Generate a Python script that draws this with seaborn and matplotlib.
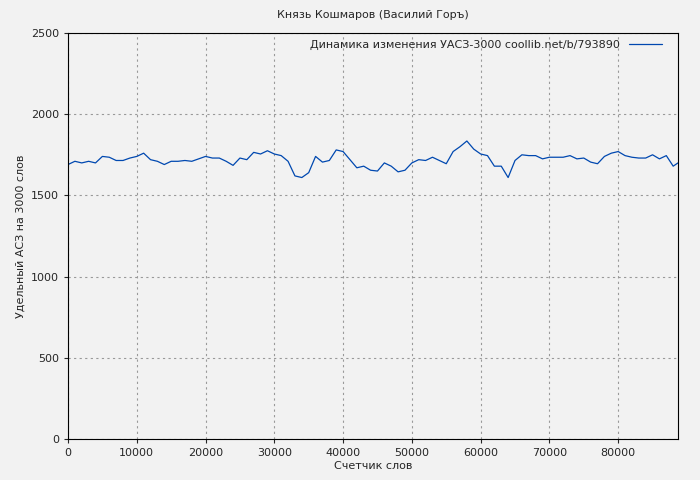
import matplotlib
matplotlib.use("Agg")
import matplotlib.pyplot as plt
import seaborn as sns
import pandas as pd

words = [i*1000 for i in range(89)]
values = [1690,1710,1700,1710,1700,1740,1735,1715,1715,1730,1740,1760,1720,1710,1690,1710,1710,1715,1710,1725,
          1740,1730,1730,1710,1685,1730,1720,1765,1755,1775,1755,1745,1710,1620,1610,1640,1740,1705,1715,1780,
          1770,1720,1670,1680,1655,1650,1700,1680,1645,1655,1700,1720,1715,1735,1715,1695,1770,1800,1835,1785,
          1755,1745,1680,1680,1610,1715,1750,1745,1745,1725,1735,1735,1735,1745,1725,1730,1705,1695,1740,1760,
          1770,1745,1735,1730,1730,1750,1725,1745,1680]
words.append(88700); values.append(1700)
df = pd.DataFrame({"x": words, "y": values})

sns.set_style("white")
plt.rcParams['font.family'] = ['DejaVu Sans']
fig = plt.figure(figsize=(7, 4.8), dpi=100)
fig.patch.set_facecolor("#f2f2f2")
ax = fig.add_axes([68/700, 41/480, 610/700, 406/480])
ax.set_facecolor("#f2f2f2")
sns.lineplot(data=df, x="x", y="y", ax=ax, color="#0048b0", linewidth=0.9,
             label="Динамика изменения УАСЗ-3000 coollib.net/b/793890")
ax.set_xlim(0, 88700)
ax.set_ylim(0, 2500)
ax.set_xticks(range(0, 88000, 10000))
ax.set_yticks(range(0, 2501, 500))
ax.grid(True, color="#999999", linestyle=(0, (2, 3)), linewidth=0.8)
for s in ax.spines.values():
    s.set_color("black")
ax.tick_params(labelsize=8, length=3, direction="out", left=True, bottom=True)
ax.set_xlabel("Счетчик слов", fontsize=8, labelpad=2)
ax.set_ylabel("Удельный АСЗ на 3000 слов", fontsize=8)
ax.set_title("Князь Кошмаров (Василий Горъ)", fontsize=8, pad=11)
leg = ax.legend(loc="upper right", frameon=False, fontsize=8, markerfirst=False, handlelength=3,
                bbox_to_anchor=(0.985, 1.0), borderaxespad=0.2)
fig.savefig("out.png", dpi=100, facecolor=fig.get_facecolor())
